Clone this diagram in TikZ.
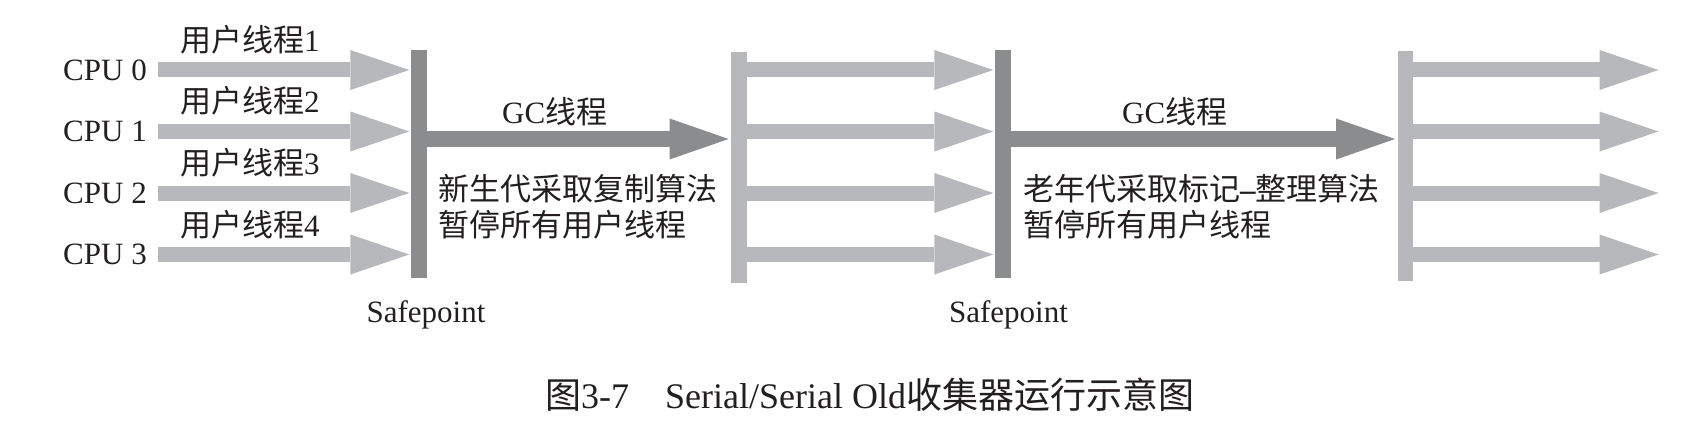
\documentclass[tikz,border=0pt]{standalone}
\usepackage{fontspec}
\setmainfont{Liberation Serif}
\newfontfamily\cjk{Noto Sans CJK SC}
\usetikzlibrary{arrows.meta}
\definecolor{lightg}{RGB}{182,184,187}
\definecolor{darkg}{RGB}{138,140,142}
\definecolor{ink}{RGB}{35,31,32}
\begin{document}
\begin{tikzpicture}[x=1pt,y=-1pt,
  lab/.style={inner sep=0pt, text=ink, font=\fontsize{31}{36}\selectfont},
  captext/.style={inner sep=0pt, text=ink, font=\fontsize{36}{40}\selectfont},
  darkbar/.style={rectangle, fill=darkg, inner sep=0pt, minimum width=16pt, minimum height=228pt},
  lightbar/.style={rectangle, fill=lightg, inner sep=0pt, minimum width=15.5pt, minimum height=230pt},
  thr/.style={draw=lightg, line width=15pt, shorten >=1.5pt, -{Triangle[length=59pt,width=40pt,line width=0pt]}},
  gc/.style={draw=darkg, line width=16pt, shorten >=2.5pt, -{Triangle[length=59pt,width=41pt,line width=0pt]}}]
\useasboundingbox (0,0) rectangle (1697,425);

% CPU labels
\node[lab, anchor=east] (cpu0) at (147,70) {CPU 0};
\node[lab, anchor=east] (cpu1) at (147,131.5) {CPU 1};
\node[lab, anchor=east] (cpu2) at (147,193) {CPU 2};
\node[lab, anchor=east] (cpu3) at (147,254.5) {CPU 3};

% user thread labels
\node[lab, anchor=base west] (u1) at (180,51.5) {{\cjk 用户线程}1};
\node[lab, anchor=base west] (u2) at (180,113) {{\cjk 用户线程}2};
\node[lab, anchor=base west] (u3) at (180,174.5) {{\cjk 用户线程}3};
\node[lab, anchor=base west] (u4) at (180,236) {{\cjk 用户线程}4};

% bars
\node[darkbar] (bar1) at (419,164) {};
\node[lightbar] (bar2) at (739,167.5) {};
\node[darkbar] (bar3) at (1003,164) {};
\node[lightbar] (bar4) at (1405.5,166) {};

% rows
\coordinate (gcrow) at (0,139);
\coordinate (endx) at (1660,0);

% user threads
\foreach \i in {0,...,3}{
  \draw[thr] ([xshift=11pt]cpu\i.east) -- (bar1.west |- cpu\i.east);
  \draw[thr] (bar2.east |- cpu\i.east) -- (bar3.west |- cpu\i.east);
  \draw[thr] (bar4.east |- cpu\i.east) -- (endx |- cpu\i.east);
}

% GC threads
\draw[gc] (bar1.east |- gcrow) -- (bar2.west |- gcrow);
\draw[gc] (bar3.east |- gcrow) -- (bar4.west |- gcrow);

\node[lab, anchor=base west] (gcl1) at (502,124) {GC{\cjk 线程}};
\node[lab, anchor=base west] (gcl2) at (1122,124) {GC{\cjk 线程}};

\node[lab, anchor=base west] (t1a) at (438,200) {{\cjk 新生代采取复制算法}};
\node[lab, anchor=base west] (t1b) at (438,236) {{\cjk 暂停所有用户线程}};
\node[lab, anchor=base west] (t2a) at (1023,200) {{\cjk 老年代采取标记}\textbf{–}{\cjk 整理算法}};
\node[lab, anchor=base west] (t2b) at (1023,236) {{\cjk 暂停所有用户线程}};

% safepoint labels
\node[lab, anchor=base] (sp1) at (426,322) {Safepoint};
\node[lab, anchor=base] (sp2) at (1008.5,322) {Safepoint};

% caption
\node[captext, anchor=base west] (caption) at (545,408) {{\cjk 图}3-7\hspace{36pt}Serial/Serial Old{\cjk 收集器运行示意图}};
\end{tikzpicture}
\end{document}
